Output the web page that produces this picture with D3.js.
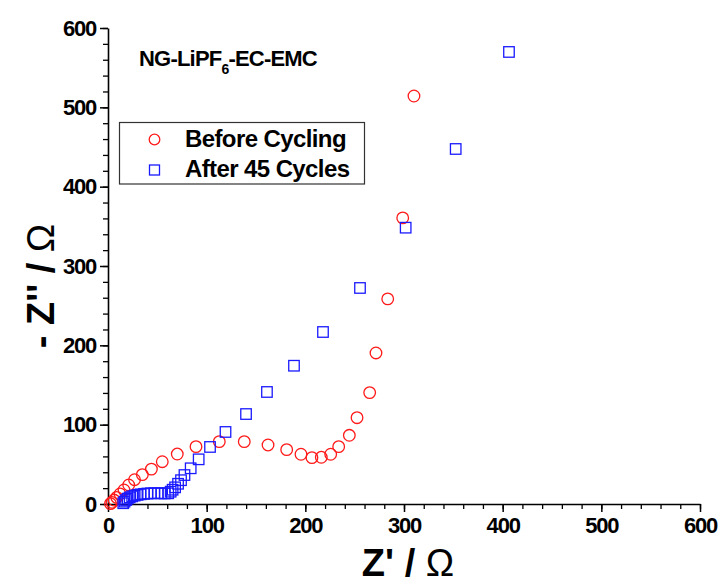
<!DOCTYPE html>
<html>
<head>
<meta charset="utf-8">
<script src="https://cdn.jsdelivr.net/npm/d3@7"></script>
<style>
  html, body { margin: 0; padding: 0; background: #ffffff; }
  svg { display: block; }
  text { font-family: "Liberation Sans", Arial, Helvetica, sans-serif; }
</style>
</head>
<body>
<svg id="chart" width="721" height="586"></svg>
<script>
// ---------- data ----------
const beforeZre = [2.5, 4.1, 6.1, 8.8, 12.2, 16.2, 21.0, 26.9, 34.8, 44.0, 55.0, 70.2, 89.2, 112.8, 138.1, 162.2, 181.1, 195.6, 206.7, 216.2, 225.7, 233.8, 244.6, 252.4, 265.2, 271.6, 283.5, 298.7, 310.1];
const beforeZim = [0.5, 2.1, 5.0, 8.4, 12.6, 17.7, 24.0, 30.6, 37.0, 44.0, 53.3, 63.0, 72.3, 78.6, 78.6, 74.4, 68.5, 62.7, 58.4, 58.9, 62.7, 72.3, 86.6, 108.8, 140.4, 190.4, 258.5, 360.6, 514.3];

const afterZre = [15.5, 16.8, 18.3, 20.0, 22.0, 24.5, 27.0, 30.0, 33.0, 36.5, 40.0, 43.5, 47.0, 50.5, 54.0, 57.5, 61.0, 63.5, 65.5, 68.0, 71.0, 74.0, 77.5, 83.8, 91.9, 103.4, 119.1, 139.9, 161.1, 188.5, 217.9, 255.4, 301.7, 352.4, 406.4];
const afterZim = [1.0, 3.0, 5.0, 6.8, 8.3, 9.6, 10.6, 11.5, 12.2, 12.8, 13.2, 13.5, 13.6, 13.6, 13.5, 13.3, 13.5, 15.5, 18.0, 21.0, 25.5, 30.0, 36.5, 45.0, 56.3, 71.9, 90.8, 113.4, 141.2, 174.3, 216.8, 272.3, 348.3, 447.5, 569.8];

const xTicks = [0, 100, 200, 300, 400, 500, 600];
const yTicks = [0, 100, 200, 300, 400, 500, 600];
const seriesNames = ["Before Cycling", "After 45 Cycles"];
const titleMain = "NG-LiPF";
const titleSub = "6";
const titleRest = "-EC-EMC";

// ---------- layout ----------
const svg = d3.select("#chart");
const x = d3.scaleLinear().domain([0, 600]).range([108, 700]);
const y = d3.scaleLinear().domain([0, 600]).range([504, 28]);
const minorTicks = d3.range(0, 601, 20);

// minor ticks
svg.append("g")
  .attr("transform", `translate(0,${y(0)})`)
  .call(d3.axisBottom(x).tickValues(minorTicks).tickSize(5).tickFormat(""))
  .call(g => g.select(".domain").remove())
  .call(g => g.selectAll("line").attr("stroke", "#000").attr("stroke-width", 1.3));
svg.append("g")
  .attr("transform", `translate(${x(0)},0)`)
  .call(d3.axisLeft(y).tickValues(minorTicks).tickSize(5).tickFormat(""))
  .call(g => g.select(".domain").remove())
  .call(g => g.selectAll("line").attr("stroke", "#000").attr("stroke-width", 1.3));

// major axes
const xAxis = svg.append("g")
  .attr("transform", `translate(0,${y(0)})`)
  .call(d3.axisBottom(x).tickValues(xTicks).tickSize(8).tickSizeOuter(0).tickPadding(5).tickFormat(d3.format("d")));
const yAxis = svg.append("g")
  .attr("transform", `translate(${x(0)},0)`)
  .call(d3.axisLeft(y).tickValues(yTicks).tickSize(8).tickSizeOuter(0).tickPadding(4).tickFormat(d3.format("d")));

[xAxis, yAxis].forEach(g => {
  g.select(".domain").attr("stroke", "#000").attr("stroke-width", 1.6);
  g.selectAll(".tick line").attr("stroke", "#000").attr("stroke-width", 1.5);
  g.selectAll(".tick text")
    .attr("fill", "#000")
    .style("font-size", "22px")
    .style("font-weight", "bold")
    .style("letter-spacing", "-1.2px")
    .style("font-family", "'Liberation Sans', Arial, sans-serif");
});

// ---------- data marks ----------
const before = beforeZre.map((v, i) => [v, beforeZim[i]]);
const after = afterZre.map((v, i) => [v, afterZim[i]]);

svg.append("g").selectAll("circle").data(before).join("circle")
  .attr("cx", d => x(d[0]))
  .attr("cy", d => y(d[1]))
  .attr("r", 5.8)
  .attr("fill", "none")
  .attr("stroke", "#ff1a1a")
  .attr("stroke-width", 1.3);

const sq = 10.5;
svg.append("g").selectAll("rect").data(after).join("rect")
  .attr("x", d => x(d[0]) - sq / 2)
  .attr("y", d => y(d[1]) - sq / 2)
  .attr("width", sq)
  .attr("height", sq)
  .attr("fill", "none")
  .attr("stroke", "#1a1aff")
  .attr("stroke-width", 1.3);

// ---------- title ----------
const title = svg.append("text")
  .attr("x", 139).attr("y", 66)
  .style("font-size", "22px").style("font-weight", "bold")
  .style("letter-spacing", "-0.8px")
  .attr("fill", "#000");
title.append("tspan").text(titleMain);
title.append("tspan").attr("dy", 8).style("font-size", "14px").text(titleSub);
title.append("tspan").attr("dy", -8).text(titleRest);

// ---------- legend ----------
svg.append("rect")
  .attr("x", 119.5).attr("y", 122.5).attr("width", 245).attr("height", 61.5)
  .attr("fill", "#fff").attr("stroke", "#333").attr("stroke-width", 1.2);
svg.append("circle")
  .attr("cx", 154.5).attr("cy", 139.5).attr("r", 5.3)
  .attr("fill", "none").attr("stroke", "#ff1a1a").attr("stroke-width", 1.3);
svg.append("rect")
  .attr("x", 154.5 - 5).attr("y", 170 - 5).attr("width", 10).attr("height", 10)
  .attr("fill", "none").attr("stroke", "#1a1aff").attr("stroke-width", 1.3);
svg.append("text").attr("x", 185).attr("y", 147)
  .style("font-size", "24px").style("font-weight", "bold").style("letter-spacing", "-0.6px")
  .attr("fill", "#000").text(seriesNames[0]);
svg.append("text").attr("x", 185).attr("y", 177)
  .style("font-size", "24px").style("font-weight", "bold").style("letter-spacing", "-0.6px")
  .attr("fill", "#000").text(seriesNames[1]);

// ---------- axis titles ----------
const xt = svg.append("text")
  .attr("x", 408).attr("y", 576)
  .attr("text-anchor", "middle")
  .style("font-size", "38px").attr("fill", "#000");
xt.append("tspan").style("font-weight", "bold").text("Z' / ");
xt.append("tspan").style("font-weight", "normal").text("Ω");

const yt = svg.append("text")
  .attr("transform", "translate(54,286) rotate(-90)")
  .attr("text-anchor", "middle")
  .style("font-size", "38px").attr("fill", "#000");
yt.append("tspan").style("font-weight", "bold").text("- Z'' / ");
yt.append("tspan").style("font-weight", "normal").text("Ω");
</script>
</body>
</html>
